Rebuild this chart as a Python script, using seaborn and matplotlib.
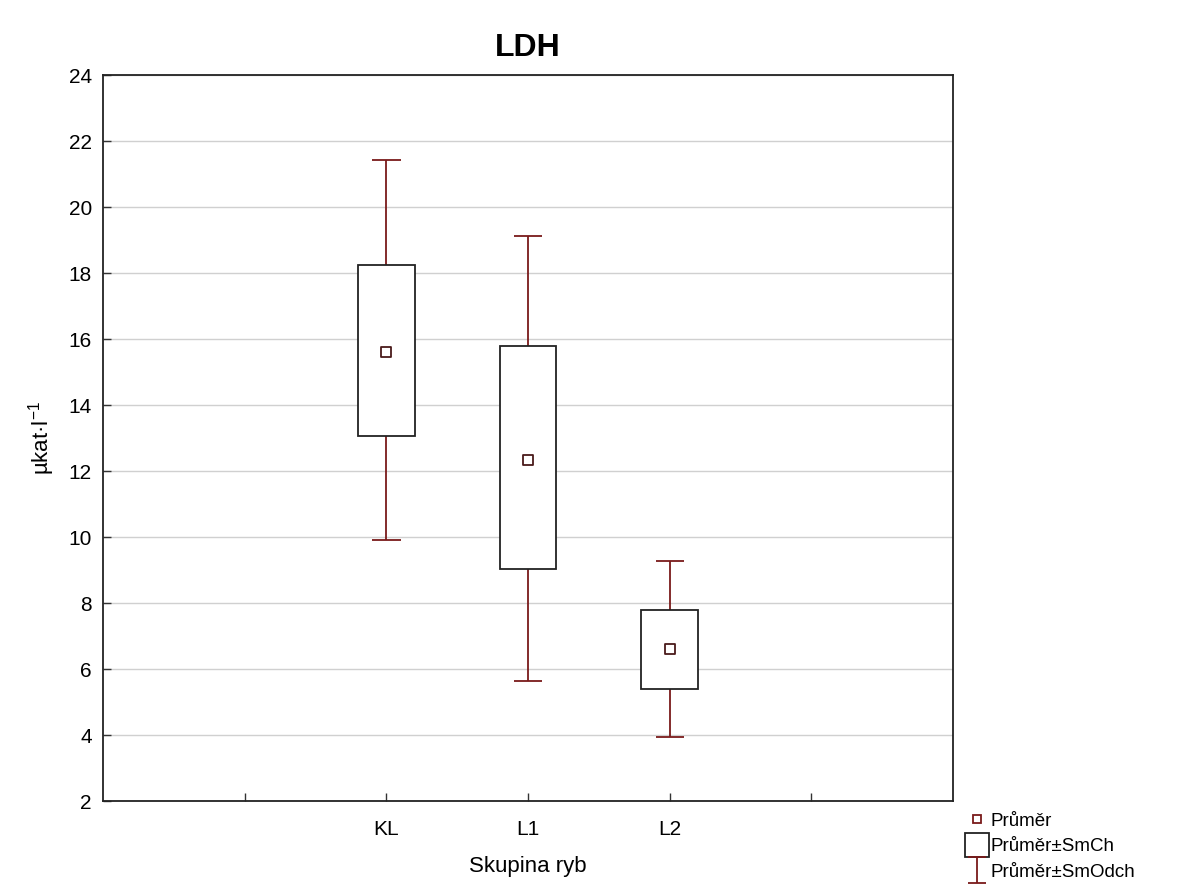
import matplotlib
matplotlib.use("Agg")
import matplotlib.pyplot as plt
import seaborn as sns
import pandas as pd
from matplotlib.path import Path
from matplotlib.lines import Line2D

# ---- data ----
groups = ["KL", "L1", "L2"]
means = [15.6, 12.35, 6.6]
se_low = [13.07, 9.03, 5.40]
se_high = [18.25, 15.78, 7.80]
sd_low = [9.92, 5.65, 3.94]
sd_high = [21.42, 19.12, 9.28]
positions = [2, 3, 4]

yticks = [2, 4, 6, 8, 10, 12, 14, 16, 18, 20, 22, 24]

sns.set_style("white")
plt.rcParams['font.family'] = ['Liberation Sans', 'DejaVu Sans']
plt.rcParams['text.color'] = 'black'
plt.rcParams['axes.labelcolor'] = 'black'
plt.rcParams['xtick.color'] = 'black'
plt.rcParams['ytick.color'] = 'black'

dark_red = "#7a1a1a"

df = pd.DataFrame({"pos": positions, "mean": means, "group": groups,
                   "se_low": se_low, "se_high": se_high,
                   "sd_low": sd_low, "sd_high": sd_high})

fig = plt.figure(figsize=(11.91, 8.94), dpi=100)
ax = fig.add_axes([0.0865, 0.104, 0.7137, 0.812])

ax.set_xlim(0, 6)
ax.set_ylim(2, 24)
ax.set_yticks(yticks)
ax.yaxis.grid(True, color="#d0d0d0", linewidth=1.0)
ax.set_axisbelow(True)

box_w = 0.4
cap_w = 0.2
# whiskers (SD)
for _, r in df.iterrows():
    ax.vlines(r["pos"], r["se_high"], r["sd_high"], color=dark_red, linewidth=1.3, zorder=2)
    ax.vlines(r["pos"], r["sd_low"], r["se_low"], color=dark_red, linewidth=1.3, zorder=2)
    ax.hlines([r["sd_low"], r["sd_high"]], r["pos"] - cap_w / 2, r["pos"] + cap_w / 2,
              color=dark_red, linewidth=1.3, zorder=2)

# boxes (SE)
ax.bar(df["pos"], df["se_high"] - df["se_low"], bottom=df["se_low"], width=box_w,
       facecolor="white", edgecolor="#222222", linewidth=1.3, zorder=3)

# means
sns.scatterplot(data=df, x="pos", y="mean", marker="s", s=55, facecolor="white",
                edgecolor="#4a1a1a", linewidth=1.3, ax=ax, zorder=4, legend=False)

ax.set_xticks([1, 2, 3, 4, 5])
ax.set_xticklabels(["", "KL", "L1", "L2", ""])
ax.tick_params(axis="both", direction="in", length=6, width=1, labelsize=15,
               color="#333333", pad=8, bottom=True, left=True)
ax.tick_params(axis="x", pad=14)
for s in ax.spines.values():
    s.set_visible(True)
    s.set_color("#222222")
    s.set_linewidth(1.3)

ax.set_xlabel("Skupina ryb", fontsize=16, labelpad=12)
ax.set_ylabel("µkat·l$^{\\mathregular{-1}}$", fontsize=16, labelpad=8)
ax.set_title("LDH", fontsize=23, fontweight="bold", pad=14)

# legend
ibeam = Path([(-0.65, 1), (0.65, 1), (0, 1), (0, -1), (-0.65, -1), (0.65, -1)],
             [Path.MOVETO, Path.LINETO, Path.MOVETO, Path.LINETO, Path.MOVETO, Path.LINETO])
handles = [
    Line2D([], [], marker="s", linestyle="none", markersize=6, markerfacecolor="white",
           markeredgecolor=dark_red, markeredgewidth=1.3),
    Line2D([], [], marker="s", linestyle="none", markersize=17, markerfacecolor="white",
           markeredgecolor="#222222", markeredgewidth=1.3),
    Line2D([], [], marker=ibeam, linestyle="none", markersize=19, markeredgecolor=dark_red,
           markerfacecolor="none", markeredgewidth=1.3),
]
labels = ["Průměr", "Průměr±SmCh", "Průměr±SmOdch"]
fig.legend(handles, labels, loc="lower left", bbox_to_anchor=(0.802, 0.0),
           frameon=False, fontsize=13.5, handlelength=0.9, handletextpad=0.3,
           labelspacing=0.45, borderpad=0.2)

fig.savefig("out.png", dpi=100)
